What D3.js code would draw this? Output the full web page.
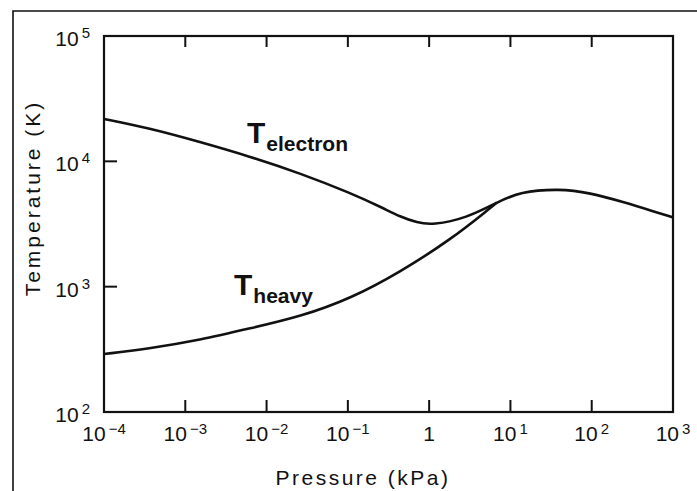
<!DOCTYPE html>
<html>
<head>
<meta charset="utf-8">
<script src="https://cdn.jsdelivr.net/npm/d3@7"></script>
<style>
  body { margin: 0; background: #fff; }
  text { font-family: "Liberation Sans", Arial, sans-serif; fill: #111; }
</style>
</head>
<body>
<script>
// values (pressure in kPa, temperature in K)
var pressureElectron = [1e-4, 3.7e-4, 1.5e-3, 6.3e-3, 0.026, 0.11, 0.27, 0.44, 0.71, 1.1, 2.9, 6.8, 13, 40, 95, 240, 630, 1000]
var tElectron = [21800, 18300, 14300, 10900, 8020, 5560, 4240, 3610, 3240, 3100, 3530, 4690, 5710, 6050, 5610, 4760, 3920, 3570]

var pressureHeavy = [1e-4, 3.7e-4, 1.5e-3, 6.3e-3, 0.026, 0.11, 0.44, 1.8, 5.6, 6.8]
var tHeavy = [290, 322, 375, 465, 576, 807, 1310, 2350, 4220, 4690]

var xTicks = [1e-4, 1e-3, 1e-2, 1e-1, 1, 10, 100, 1000]
var xTickLabels = [["10", "\u22124"], ["10", "\u22123"], ["10", "\u22122"], ["10", "\u22121"], ["1", ""], ["10", "1"], ["10", "2"], ["10", "3"]]
var yTicks = [100, 1000, 10000, 100000]
var yTickLabels = [["10", "2"], ["10", "3"], ["10", "4"], ["10", "5"]]

var width = 697, height = 491
var plotLeft = 104, plotRight = 673, plotTop = 36, plotBottom = 412

var svg = d3.select("body").append("svg")
    .attr("width", width)
    .attr("height", height)

// outer frame of the figure
svg.append("path")
    .attr("d", "M13," + height + "V11H" + width)
    .attr("fill", "none")
    .attr("stroke", "#111")
    .attr("stroke-width", 1.6)

var x = d3.scaleLog().domain([1e-4, 1e3]).range([plotLeft, plotRight])
var y = d3.scaleLog().domain([1e2, 1e5]).range([plotBottom, plotTop])

// plot box
svg.append("rect")
    .attr("x", plotLeft).attr("y", plotTop)
    .attr("width", plotRight - plotLeft).attr("height", plotBottom - plotTop)
    .attr("fill", "none")
    .attr("stroke", "#111")
    .attr("stroke-width", 2.2)

// bottom + top ticks (inward)
svg.selectAll(".xtick-b")
    .data(xTicks.slice(1, -1))
    .join("line")
    .attr("x1", d => x(d)).attr("x2", d => x(d))
    .attr("y1", plotBottom).attr("y2", plotBottom - 12)
    .attr("stroke", "#111").attr("stroke-width", 2)

svg.selectAll(".xtick-t")
    .data(xTicks.slice(1, -1))
    .join("line")
    .attr("x1", d => x(d)).attr("x2", d => x(d))
    .attr("y1", plotTop).attr("y2", plotTop + 11)
    .attr("stroke", "#111").attr("stroke-width", 2)

// left ticks
svg.selectAll(".ytick")
    .data(yTicks.slice(1, -1))
    .join("line")
    .attr("x1", plotLeft).attr("x2", plotLeft + 13)
    .attr("y1", d => y(d)).attr("y2", d => y(d))
    .attr("stroke", "#111").attr("stroke-width", 2)

// x tick labels
var xl = svg.selectAll(".xlab")
    .data(xTicks)
    .join("text")
    .attr("class", "xlab")
    .attr("x", d => x(d))
    .attr("y", plotBottom + 29)
    .attr("text-anchor", "middle")
    .style("font-size", "21px")
xl.append("tspan").text((d, i) => xTickLabels[i][0])
xl.append("tspan")
    .attr("dy", -7)
    .attr("dx", 3)
    .style("font-size", "15px")
    .text((d, i) => xTickLabels[i][1])

// y tick labels
var yl = svg.selectAll(".ylab")
    .data(yTicks)
    .join("text")
    .attr("class", "ylab")
    .attr("x", 90)
    .attr("y", d => y(d) + 10)
    .attr("text-anchor", "end")
    .style("font-size", "21px")
yl.append("tspan").text((d, i) => yTickLabels[i][0])
yl.append("tspan")
    .attr("dy", -8)
    .attr("dx", 3)
    .style("font-size", "15px")
    .text((d, i) => yTickLabels[i][1])

// axis titles
svg.append("text")
    .attr("x", 363).attr("y", 485)
    .attr("text-anchor", "middle")
    .style("font-size", "21px")
    .style("letter-spacing", "2.5px")
    .text("Pressure (kPa)")

svg.append("text")
    .attr("transform", "translate(40,198) rotate(-90)")
    .attr("text-anchor", "middle")
    .style("font-size", "21px")
    .style("letter-spacing", "3px")
    .text("Temperature (K)")

// curves
var line = d3.line()
    .x(d => x(d[0]))
    .y(d => y(d[1]))
    .curve(d3.curveBasis)

svg.append("path")
    .datum(pressureElectron.map((p, i) => [p, tElectron[i]]))
    .attr("d", line)
    .attr("fill", "none")
    .attr("stroke", "#111")
    .attr("stroke-width", 2.6)

svg.append("path")
    .datum(pressureHeavy.map((p, i) => [p, tHeavy[i]]))
    .attr("d", line)
    .attr("fill", "none")
    .attr("stroke", "#111")
    .attr("stroke-width", 2.6)

// curve labels
function curveLabel(xp, yp, sub) {
    var t = svg.append("text")
        .attr("x", xp).attr("y", yp)
        .style("font-weight", "bold")
        .style("font-size", "30px")
    t.append("tspan").text("T")
    t.append("tspan")
        .attr("dy", 8)
        .attr("dx", 1)
        .style("font-size", "21px")
        .text(sub)
}
curveLabel(247, 143, "electron")
curveLabel(234, 295, "heavy")
</script>
</body>
</html>
